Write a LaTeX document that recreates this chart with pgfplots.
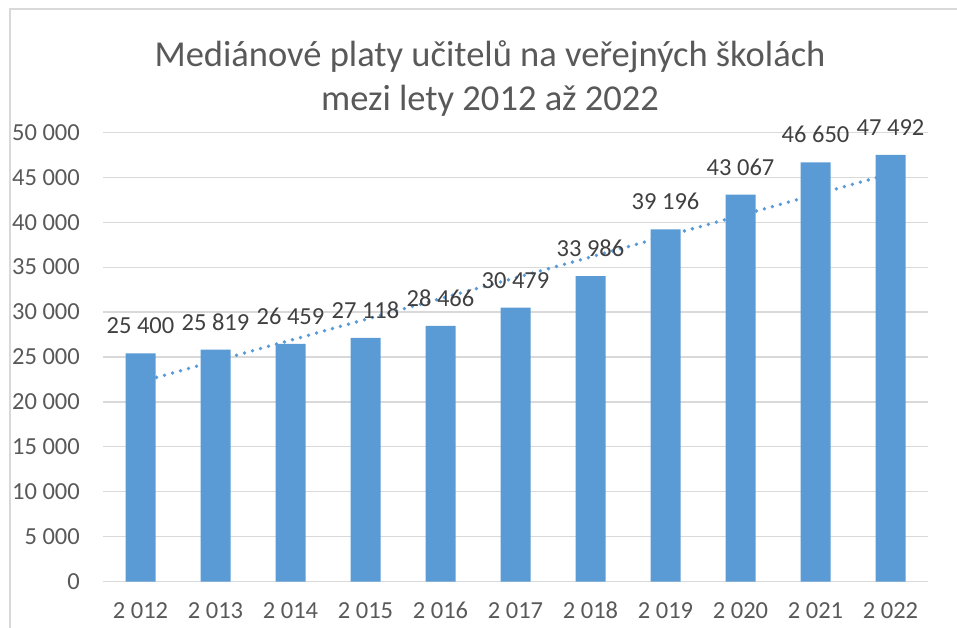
\documentclass[border=0pt]{standalone}
\usepackage{pgfplots}
\pgfplotsset{compat=1.18}
\usepackage{pgfplotstable}
\usepackage{fontspec}
\setmainfont{Carlito}
\definecolor{barblue}{HTML}{5B9BD5}
\definecolor{tickc}{HTML}{595959}
\definecolor{lblc}{HTML}{404040}
\definecolor{gridc}{HTML}{D9D9D9}
\pgfplotstableread{
X Y
2012 25400
2013 25819
2014 26459
2015 27118
2016 28466
2017 30479
2018 33986
2019 39196
2020 43067
2021 46650
2022 47492
}\datatable
\pgfplotsset{/pgf/number format/.cd, 1000 sep={\ }, fixed, precision=0, assume math mode=true}
\begin{document}
\begin{tikzpicture}[x=1bp,y=1bp]
\path[use as bounding box] (0,0) rectangle (957,628);
\draw[gridc, line width=1.2bp] (10,-20) -- (10,619) -- (990,619);
\node[anchor=base, text=tickc, inner sep=0pt, font=\fontsize{36.5bp}{44bp}\selectfont] at (490,561.3) {Mediánové platy učitelů na veřejných školách};
\node[anchor=base, text=tickc, inner sep=0pt, font=\fontsize{36.5bp}{44bp}\selectfont] at (490,517.5) {mezi lety 2012 až 2022};
\begin{axis}[
  at={(103bp,46.3bp)}, anchor=south west,
  scale only axis, width=825bp, height=449.4bp,
  xmin=2011.5, xmax=2022.5, ymin=0, ymax=50000,
  xtick={2012,2013,...,2022},
  ytick={0,5000,...,50000},
  scaled y ticks=false, scaled x ticks=false,
  axis line style={draw=none},
  tick style={draw=none},
  major tick length=0pt,
  ymajorgrids, xmajorgrids=false,
  major grid style={gridc, line width=1.2bp},
  xticklabel style={font=\fontsize{24.5bp}{28bp}\selectfont, text=tickc, anchor=base, inner sep=0pt, yshift=-37.3bp},
  yticklabel style={font=\fontsize{24.5bp}{28bp}\selectfont, text=tickc, anchor=east, inner sep=0pt, xshift=-23bp},
  clip=false,
]
\addplot[barblue, line width=3.8bp, dash pattern=on 0pt off 8.3bp, line cap=round, no marks]
  table[x=X, y={create col/linear regression={y=Y}}]{\datatable};
\addplot[ybar, bar width=30bp, fill=barblue, draw=none,
  nodes near coords,
  nodes near coords style={font=\fontsize{24.5bp}{28bp}\selectfont, text=lblc, anchor=base, inner sep=0pt, yshift=19.5bp}]
  table[x=X, y=Y]{\datatable};
\end{axis}
\end{tikzpicture}
\end{document}
